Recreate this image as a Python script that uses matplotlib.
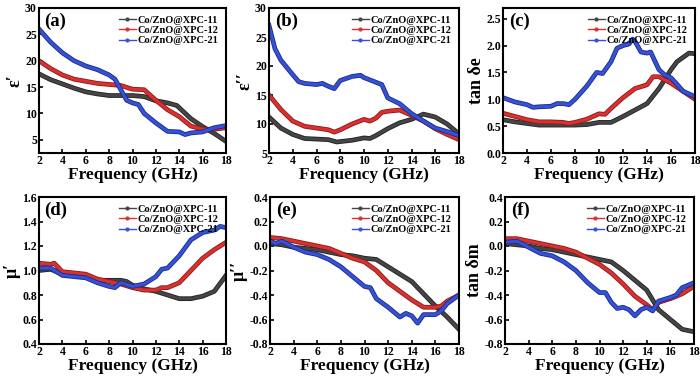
import matplotlib
matplotlib.use("Agg")
import matplotlib.pyplot as plt
import matplotlib.patheffects as pe
from matplotlib.lines import Line2D

plt.rcParams['font.family'] = ['Liberation Serif', 'DejaVu Serif']
plt.rcParams['font.weight'] = 'bold'

names = ["Co/ZnO@XPC-11", "Co/ZnO@XPC-12", "Co/ZnO@XPC-21"]
colors = ["#454545", "#d8312f", "#3552d6"]
edges = ["#222222", "#8a1a1a", "#1a2a8a"]

# (a) eps'
a_x11 = [2, 3, 4, 5, 6, 7, 8, 9, 10, 11, 12, 13, 13.8, 15, 16, 17, 18]
a_y11 = [17.5, 16.4, 15.6, 14.8, 14.1, 13.7, 13.4, 13.4, 13.4, 13.2, 12.4, 12.0, 11.5, 9.0, 7.5, 6.2, 4.7]
a_x12 = [2, 3, 4, 5, 6, 7, 8, 9, 10, 11, 12, 13, 14, 15, 16, 17, 18]
a_y12 = [20.0, 18.5, 17.3, 16.5, 16.1, 15.7, 15.5, 15.3, 14.6, 14.5, 12.5, 10.7, 9.4, 7.6, 7.0, 7.0, 7.3]
a_x21 = [2, 3, 4, 5, 6, 7, 8, 8.5, 9, 9.5, 10, 10.5, 11, 12, 13, 14, 14.5, 15, 16, 17, 18]
a_y21 = [26.0, 23.5, 21.5, 20.0, 19.0, 18.3, 17.3, 16.5, 14.5, 12.5, 12.0, 11.7, 10.0, 8.2, 6.6, 6.5, 6.0, 6.3, 6.5, 7.3, 7.7]

# (b) eps''
b_x11 = [2, 3, 4, 5, 6, 7, 7.7, 9, 10, 10.5, 11, 12, 13, 14, 15, 16, 17, 18]
b_y11 = [11.2, 9.3, 8.2, 7.5, 7.4, 7.3, 6.9, 7.2, 7.6, 7.5, 8.0, 9.2, 10.2, 10.8, 11.7, 11.2, 10.0, 8.3]
b_x12 = [2, 3, 4, 5, 6, 7, 7.5, 8, 9, 10, 10.5, 11, 11.5, 12, 13, 14, 15, 16, 17, 18]
b_y12 = [15.0, 12.5, 10.5, 9.6, 9.3, 9.0, 8.6, 9.0, 10.0, 10.8, 10.5, 11.0, 12.0, 12.2, 12.4, 11.5, 10.5, 9.2, 8.2, 7.3]
b_x21 = [2, 2.5, 3, 4, 4.5, 5, 6, 6.5, 7, 7.5, 8, 9, 9.7, 10, 11, 11.5, 12, 13, 14, 15, 16, 17, 18]
b_y21 = [27.0, 23.0, 21.0, 18.5, 17.3, 17.0, 16.8, 17.0, 16.5, 16.1, 17.5, 18.2, 18.4, 18.0, 17.2, 16.8, 14.5, 13.5, 11.8, 10.5, 9.3, 8.7, 8.0]

# (c) tan de
c_x11 = [2, 3, 4, 5, 6, 7, 8, 9, 10, 11, 12, 13, 14, 15, 16, 16.5, 17, 17.5, 18]
c_y11 = [0.62, 0.58, 0.55, 0.52, 0.52, 0.52, 0.52, 0.53, 0.57, 0.57, 0.68, 0.80, 0.92, 1.20, 1.55, 1.70, 1.78, 1.86, 1.85]
c_x12 = [2, 3, 4, 5, 6, 7, 7.5, 8, 9, 10, 10.5, 11, 12, 13, 14, 14.5, 15, 16, 17, 18]
c_y12 = [0.74, 0.68, 0.62, 0.58, 0.58, 0.57, 0.55, 0.57, 0.63, 0.73, 0.72, 0.83, 1.03, 1.20, 1.27, 1.42, 1.42, 1.30, 1.15, 1.00]
c_x21 = [2, 3, 4, 4.5, 5, 6, 6.5, 7, 7.5, 8, 9, 9.8, 10.3, 11, 11.5, 12, 12.5, 12.8, 13, 13.5, 14, 14.3, 15, 15.5, 16, 16.5, 17, 17.5, 18]
c_y21 = [1.03, 0.95, 0.90, 0.85, 0.86, 0.87, 0.92, 0.92, 0.90, 1.00, 1.25, 1.50, 1.48, 1.70, 1.95, 2.00, 2.03, 2.12, 2.08, 1.88, 1.86, 1.88, 1.55, 1.45, 1.40, 1.28, 1.15, 1.10, 1.05]

# (d) mu'
d_x11 = [2, 3, 4, 5, 6, 7, 8, 9, 9.5, 10, 11, 12, 13, 14, 15, 16, 17, 18]
d_y11 = [1.00, 1.01, 0.97, 0.96, 0.95, 0.92, 0.92, 0.92, 0.91, 0.88, 0.85, 0.83, 0.80, 0.77, 0.77, 0.79, 0.83, 0.96]
d_x12 = [2, 3, 3.3, 4, 5, 6, 7, 8, 9, 10, 11, 12, 12.5, 13, 14, 15, 16, 17, 18]
d_y12 = [1.06, 1.05, 1.06, 0.99, 0.98, 0.97, 0.93, 0.91, 0.89, 0.86, 0.84, 0.84, 0.86, 0.86, 0.90, 1.00, 1.10, 1.17, 1.23]
d_x21 = [2, 3, 4, 5, 6, 7, 8, 8.5, 9, 10, 10.5, 11, 12, 12.5, 13, 14, 15, 16, 17, 17.5, 18]
d_y21 = [1.02, 1.02, 0.96, 0.95, 0.94, 0.90, 0.87, 0.86, 0.90, 0.87, 0.88, 0.89, 0.95, 1.01, 1.02, 1.12, 1.25, 1.31, 1.33, 1.36, 1.35]

# (e) mu''
e_x11 = [2, 3, 4, 5, 6, 7, 8, 9, 10, 11, 12, 13, 14, 15, 16, 17, 18]
e_y11 = [0.02, 0.01, -0.01, -0.02, -0.03, -0.05, -0.07, -0.08, -0.10, -0.11, -0.17, -0.23, -0.29, -0.39, -0.49, -0.58, -0.68]
e_x12 = [2, 3, 4, 5, 6, 7, 8, 9, 10, 11, 12, 13, 14, 15, 16, 16.5, 17, 18]
e_y12 = [0.07, 0.06, 0.04, 0.02, 0.0, -0.02, -0.06, -0.10, -0.13, -0.20, -0.30, -0.37, -0.44, -0.50, -0.50, -0.49, -0.45, -0.40]
e_x21 = [2, 2.5, 3, 4, 5, 6, 7, 8, 9, 10, 10.5, 11, 12, 13, 13.5, 14, 14.5, 15, 16, 16.5, 17, 18]
e_y21 = [0.04, 0.02, 0.04, -0.01, -0.05, -0.07, -0.11, -0.17, -0.25, -0.33, -0.34, -0.43, -0.50, -0.58, -0.55, -0.57, -0.63, -0.56, -0.56, -0.53, -0.47, -0.40]

# (f) tan dm
f_x11 = [2, 3, 4, 5, 6, 7, 8, 9, 10, 11, 12, 13, 14, 14.5, 15, 16, 17, 18]
f_y11 = [0.02, 0.01, 0.0, -0.02, -0.03, -0.05, -0.07, -0.09, -0.11, -0.13, -0.20, -0.28, -0.36, -0.44, -0.52, -0.60, -0.68, -0.70]
f_x12 = [2, 3, 4, 5, 6, 7, 8, 9, 10, 11, 12, 13, 14, 14.5, 15, 16, 17, 18]
f_y12 = [0.06, 0.06, 0.04, 0.02, 0.0, -0.02, -0.05, -0.10, -0.15, -0.22, -0.31, -0.41, -0.48, -0.52, -0.46, -0.43, -0.39, -0.33]
f_x21 = [2, 3, 4, 5, 6, 7, 8, 9, 10, 10.5, 11, 11.5, 12, 12.5, 13, 13.5, 14, 14.5, 15, 16, 16.5, 17, 18]
f_y21 = [0.03, 0.04, -0.01, -0.06, -0.08, -0.13, -0.20, -0.30, -0.38, -0.38, -0.46, -0.51, -0.50, -0.52, -0.57, -0.52, -0.50, -0.53, -0.45, -0.42, -0.40, -0.34, -0.30]

panels = [
    ("(a)", "ε′", (2.5, 30), [5, 10, 15, 20, 25, 30], ["5", "10", "15", "20", "25", "30"],
     [(a_x11, a_y11), (a_x12, a_y12), (a_x21, a_y21)]),
    ("(b)", "ε′′", (5, 30), [5, 10, 15, 20, 25, 30], ["5", "10", "15", "20", "25", "30"],
     [(b_x11, b_y11), (b_x12, b_y12), (b_x21, b_y21)]),
    ("(c)", "tan δe", (0, 2.7), [0, 0.5, 1.0, 1.5, 2.0, 2.5], ["0.0", "0.5", "1.0", "1.5", "2.0", "2.5"],
     [(c_x11, c_y11), (c_x12, c_y12), (c_x21, c_y21)]),
    ("(d)", "μ′", (0.4, 1.6), [0.4, 0.6, 0.8, 1.0, 1.2, 1.4, 1.6], ["0.4", "0.6", "0.8", "1.0", "1.2", "1.4", "1.6"],
     [(d_x11, d_y11), (d_x12, d_y12), (d_x21, d_y21)]),
    ("(e)", "μ′′", (-0.8, 0.4), [-0.8, -0.6, -0.4, -0.2, 0.0, 0.2, 0.4], ["-0.8", "-0.6", "-0.4", "-0.2", "0.0", "0.2", "0.4"],
     [(e_x11, e_y11), (e_x12, e_y12), (e_x21, e_y21)]),
    ("(f)", "tan δm", (-0.8, 0.4), [-0.8, -0.6, -0.4, -0.2, 0.0, 0.2, 0.4], ["-0.8", "-0.6", "-0.4", "-0.2", "0.0", "0.2", "0.4"],
     [(f_x11, f_y11), (f_x12, f_y12), (f_x21, f_y21)]),
]

# axes boxes in pixels: left, right, top, bottom
boxes = [(39, 226, 8, 153), (269, 459, 8, 153), (503, 695, 8, 153),
         (39, 226, 197, 344), (270, 459, 197, 344), (505, 694, 197, 344)]

W, H = 700, 377
fig = plt.figure(figsize=(W / 100, H / 100), dpi=100)

for (lab, ylab, ylim, yt, ytl, series), (l, r, t, b) in zip(panels, boxes):
    ax = fig.add_axes([l / W, 1 - b / H, (r - l) / W, (b - t) / H])
    for (xs, ys), c, ec in zip(series, colors, edges):
        ax.plot(xs, ys, color=c, lw=2.2, solid_joinstyle='round',
                path_effects=[pe.Stroke(linewidth=3.4, foreground=ec), pe.Normal()])
    ax.set_xlim(2, 18)
    ax.set_ylim(*ylim)
    ax.set_xticks(range(2, 19, 2))
    ax.set_yticks(yt)
    ax.set_yticklabels(ytl)
    ax.tick_params(direction='in', length=3, width=1.2, labelsize=8.5, pad=1.5)
    for s in ax.spines.values():
        s.set_linewidth(1.5)
    ax.set_xlabel("Frequency (GHz)", fontsize=12.5, fontweight='bold', labelpad=0)
    ax.set_ylabel(ylab, fontsize=13, fontweight='bold', labelpad=1)
    ax.text(0.03, 0.97, lab, transform=ax.transAxes, fontsize=13.5, fontweight='bold', va='top', ha='left')
    handles = [Line2D([0], [0], color=c, lw=1.0, marker='o', markersize=2) for c in colors]
    ax.legend(handles, names, loc='upper right', frameon=False,
              handlelength=1.6, handletextpad=0.2, labelspacing=0.1, borderaxespad=0.3,
              prop={'weight': 'bold', 'size': 7.5})

fig.savefig("out.png", dpi=100)
